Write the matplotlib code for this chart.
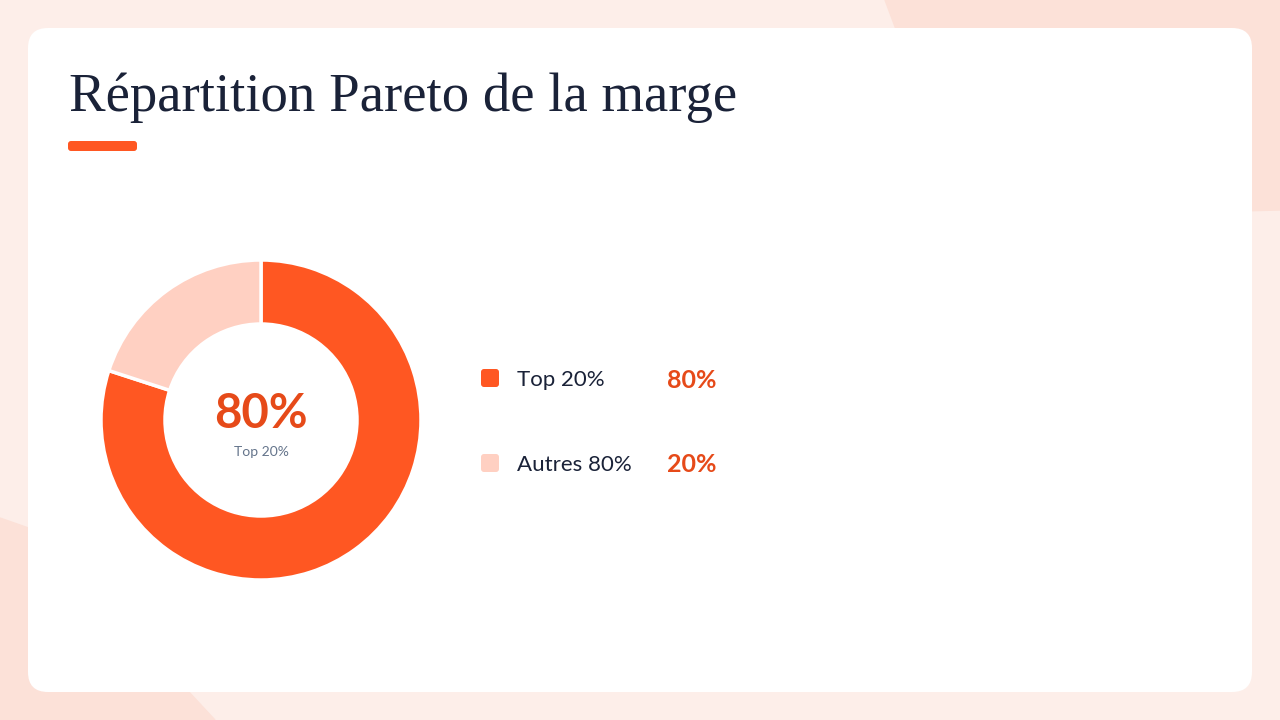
import matplotlib.pyplot as plt
from matplotlib.patches import FancyBboxPatch, Polygon

categories = ["Top 20%", "Autres 80%"]
shares = [80, 20]
colors = ["#ff5722", "#ffd0c2"]
title = "Répartition Pareto de la marge"
center_label = "Top 20%"

W, H = 1280, 720
fig = plt.figure(figsize=(12.8, 7.2), dpi=100)

# background layer in pixel coords
bg = fig.add_axes([0, 0, 1, 1])
bg.set_xlim(0, W)
bg.set_ylim(H, 0)
bg.axis("off")
bg.add_patch(Polygon([(0, 0), (W, 0), (W, H), (0, H)], color="#fdeee9", zorder=0))
bg.add_patch(Polygon([(885, 0), (W, 0), (W, 210), (1200, 212), (900, 40)],
                     color="#fce1d8", zorder=0.5))
bg.add_patch(Polygon([(0, 518), (40, 532), (215, 720), (0, 720)],
                     color="#fce1d8", zorder=0.5))

# white card
bg.add_patch(FancyBboxPatch((48, 48), 1184, 624, boxstyle="round,pad=20",
                            fc="white", ec="none", zorder=1))

# title + accent bar
bg.text(69, 98, title, fontsize=39.4, family="Liberation Serif", color="#1a2238",
        va="center", ha="left", zorder=2)
bg.add_patch(FancyBboxPatch((71, 144), 63, 4, boxstyle="round,pad=3",
                            fc="#ff5722", ec="none", zorder=2))

# legend
rows_y = [378, 463]
for i, (name, val) in enumerate(zip(categories, shares)):
    y = rows_y[i]
    bg.add_patch(FancyBboxPatch((484, y - 6), 12, 12, boxstyle="round,pad=3",
                                fc=colors[i], ec="none", zorder=2))
    bg.text(517, y + 2, name, fontsize=16, family="Lato", color="#1a2238",
            va="center", ha="left", zorder=2)
    bg.text(667, y + 2, f"{val}%", fontsize=18, family="Lato", fontweight="bold",
            color="#e64a19", va="center", ha="left", zorder=2)

# donut
ax = fig.add_axes([101 / W, 1 - 580 / H, 320 / W, 320 / H])
ax.pie(shares, colors=colors, startangle=90, counterclock=False,
       wedgeprops=dict(width=0.4, edgecolor="white", linewidth=2.5))
ax.set_xlim(-1.0, 1.0)
ax.set_ylim(-1.0, 1.0)
ax.set_aspect("equal")
ax.text(0, 0.04, f"{shares[0]}%", fontsize=34, family="Lato", fontweight="bold",
        color="#e64a19", ha="center", va="center")
ax.text(0, -0.2, center_label, fontsize=10, family="Lato", color="#64748b",
        ha="center", va="center")

fig.savefig("out.png", dpi=100)
